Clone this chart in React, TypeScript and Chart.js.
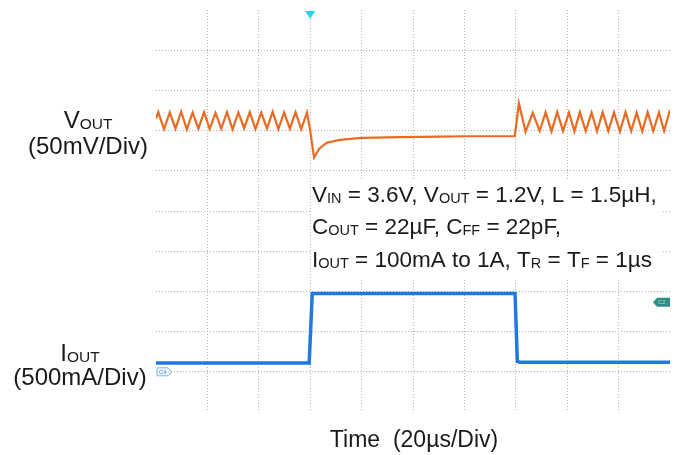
import React, { useEffect, useRef } from "react";
import { Chart, registerables } from "chart.js";

Chart.register(...registerables);

// Time axis in µs (20 µs/div, 10 divisions), vertical axis in screen divisions (0..10)
const X_MIN = 0;
const X_MAX = 200;
const X_STEP = 20;
const Y_MIN = 0;
const Y_MAX = 10;
const Y_STEP = 1;

// V_OUT trace (µs, divisions)
const voutTimes = [
  0, 0.9, 3.1, 5.35, 7.6, 9.8, 12.0, 14.25, 16.5, 18.7, 20.9, 23.15, 25.4, 27.6, 29.8,
  32.05, 34.3, 36.5, 38.7, 40.95, 43.2, 45.4, 47.6, 49.85, 52.1, 54.3, 56.5, 58.75,
  60.0, 61.5, 63.5, 66.4, 71.6, 80.0, 95.0, 110.0, 120.9, 130.0, 139.6,
  141.2, 143.8, 146.6, 149.3, 151.6, 153.9, 156.1, 158.4, 160.7, 162.8, 164.9, 167.2,
  169.5, 171.6, 173.8, 176.0, 178.2, 180.5, 182.7, 184.9, 187.0, 189.2, 191.3, 193.5,
  195.7, 197.7, 199.7, 200,
];
const voutValues = [
  7.3, 7.46, 7.04, 7.45, 7.05, 7.47, 7.03, 7.45, 7.05, 7.46, 7.04, 7.44, 7.05, 7.46, 7.03,
  7.45, 7.06, 7.46, 7.04, 7.45, 7.05, 7.47, 7.04, 7.45, 7.05, 7.46, 7.04, 7.45,
  7.0, 6.33, 6.55, 6.7, 6.77, 6.82, 6.84, 6.85, 6.86, 6.86, 6.86,
  7.68, 6.97, 7.44, 6.99, 7.45, 6.98, 7.46, 6.99, 7.45, 6.98, 7.46, 6.99,
  7.45, 6.98, 7.46, 6.99, 7.45, 6.98, 7.46, 6.99, 7.45, 6.98, 7.46, 6.99,
  7.45, 6.99, 7.45, 7.4,
];

// I_OUT trace (µs, divisions)
const ioutTimes = [0, 59.6, 60.8, 139.7, 140.6, 141.6, 200];
const ioutValues = [1.22, 1.22, 2.95, 2.95, 1.26, 1.24, 1.24];

// markers
const triggerTime = 60;
const ch4GroundDiv = 1.0;
const ch2RefDiv = 2.73;

// texts ([text, isSubscript])
type Part = [string, boolean];
const voutLabel: Part[] = [["V", false], ["OUT", true]];
const voutScale = "(50mV/Div)";
const ioutLabel: Part[] = [["I", false], ["OUT", true]];
const ioutScale = "(500mA/Div)";
const infoLines: Part[][] = [
  [["V", false], ["IN", true], [" = 3.6V, V", false], ["OUT", true], [" = 1.2V, L = 1.5µH,", false]],
  [["C", false], ["OUT", true], [" = 22µF, C", false], ["FF", true], [" = 22pF,", false]],
  [["I", false], ["OUT", true], [" = 100mA to 1A, T", false], ["R", true], [" = T", false], ["F", true], [" = 1µs", false]],
];
const timeLabel = "Time  (20µs/Div)";

const FONT = '"Liberation Sans", Arial, Helvetica, sans-serif';

function drawRich(
  ctx: CanvasRenderingContext2D,
  parts: Part[],
  x: number,
  y: number,
  size: number,
  subSize: number,
  align: "left" | "center"
) {
  ctx.save();
  ctx.textAlign = "left";
  ctx.textBaseline = "alphabetic";
  const widths = parts.map(([t, s]) => {
    ctx.font = `${s ? subSize : size}px ${FONT}`;
    return ctx.measureText(t).width;
  });
  const total = widths.reduce((a, b) => a + b, 0);
  let cx = align === "center" ? x - total / 2 : x;
  parts.forEach(([t, s], i) => {
    ctx.font = `${s ? subSize : size}px ${FONT}`;
    ctx.fillText(t, cx, s ? y + 1 : y);
    cx += widths[i];
  });
  ctx.restore();
}

const overlayPlugin = {
  id: "scopeOverlay",
  beforeDatasetsDraw(chart: any) {
    const ctx: CanvasRenderingContext2D = chart.ctx;
    ctx.save();
    ctx.fillStyle = "#ffffff";
    ctx.fillRect(311, 179, 352, 99);
    ctx.fillStyle = "#1a1a1a";
    const baselines = [202, 234, 267];
    infoLines.forEach((line, i) => drawRich(ctx, line, 312, baselines[i], 22.5, 14.5, "left"));
    ctx.restore();
  },
  afterDatasetsDraw(chart: any) {
    const ctx: CanvasRenderingContext2D = chart.ctx;
    const xs = chart.scales.x;
    const ys = chart.scales.y;
    const area = chart.chartArea;
    ctx.save();
    // trigger marker
    const tx = xs.getPixelForValue(triggerTime);
    ctx.fillStyle = "#19dcf2";
    ctx.beginPath();
    ctx.moveTo(tx - 5, area.top + 1);
    ctx.lineTo(tx + 5, area.top + 1);
    ctx.lineTo(tx, area.top + 9);
    ctx.closePath();
    ctx.fill();

    // CH4 ground tag (left)
    const gy = ys.getPixelForValue(ch4GroundDiv);
    const lx = area.left + 1;
    ctx.beginPath();
    ctx.moveTo(lx, gy - 4);
    ctx.lineTo(lx + 11, gy - 4);
    ctx.lineTo(lx + 15, gy);
    ctx.lineTo(lx + 11, gy + 4);
    ctx.lineTo(lx, gy + 4);
    ctx.closePath();
    ctx.fillStyle = "#eef5fd";
    ctx.fill();
    ctx.strokeStyle = "#7fb6ec";
    ctx.lineWidth = 1;
    ctx.stroke();
    ctx.fillStyle = "#3d8be0";
    ctx.font = `6px ${FONT}`;
    ctx.textBaseline = "middle";
    ctx.fillText("C4", lx + 2, gy + 0.5);

    // CH2 reference tag (right)
    const ry = ys.getPixelForValue(ch2RefDiv);
    const rx = area.right;
    ctx.beginPath();
    ctx.moveTo(rx - 13, ry - 4.5);
    ctx.lineTo(rx, ry - 4.5);
    ctx.lineTo(rx, ry + 4.5);
    ctx.lineTo(rx - 13, ry + 4.5);
    ctx.lineTo(rx - 17, ry);
    ctx.closePath();
    ctx.fillStyle = "#2f8f86";
    ctx.fill();
    ctx.fillStyle = "#a9dcd6";
    ctx.font = `6px ${FONT}`;
    ctx.fillText("C2", rx - 12, ry + 0.5);
    ctx.restore();
  },
  afterDraw(chart: any) {
    const ctx: CanvasRenderingContext2D = chart.ctx;
    ctx.save();
    ctx.fillStyle = "#1a1a1a";
    drawRich(ctx, voutLabel, 88, 128, 24, 15.5, "center");
    drawRich(ctx, [[voutScale, false]], 88, 154, 24, 15.5, "center");
    drawRich(ctx, ioutLabel, 80, 361, 24, 15.5, "center");
    drawRich(ctx, [[ioutScale, false]], 80, 385, 24, 15.5, "center");
    drawRich(ctx, [[timeLabel, false]], 414, 447, 23, 15, "center");
    ctx.restore();
  },
};

const gridColor = (ctx: any) => {
  const n = ctx.chart && ctx.scale ? ctx.scale.ticks.length : 0;
  if (ctx.index === 0 || ctx.index === n - 1) return "rgba(0,0,0,0)";
  return "#b2b2b2";
};

export default function App() {
  const canvasRef = useRef<HTMLCanvasElement | null>(null);

  useEffect(() => {
    document.body.style.margin = "0";
    const canvas = canvasRef.current;
    if (!canvas) return;
    const chart = new Chart(canvas, {
      type: "line",
      data: {
        datasets: [
          {
            label: "VOUT",
            data: voutTimes.map((t, i) => ({ x: t, y: voutValues[i] })),
            borderColor: "#ea6a22",
            borderWidth: 2.2,
            pointRadius: 0,
            tension: 0,
            fill: false,
          },
          {
            label: "IOUT",
            data: ioutTimes.map((t, i) => ({ x: t, y: ioutValues[i] })),
            borderColor: "#2079df",
            borderWidth: 3.5,
            pointRadius: 0,
            tension: 0,
            fill: false,
          },
        ],
      },
      options: {
        responsive: false,
        animation: false,
        devicePixelRatio: 1,
        layout: { padding: { left: 156, right: 7, top: 10, bottom: 43 } },
        plugins: { legend: { display: false }, tooltip: { enabled: false } },
        scales: {
          x: {
            type: "linear",
            min: X_MIN,
            max: X_MAX,
            ticks: { display: false, stepSize: X_STEP },
            grid: { color: gridColor, drawTicks: false, lineWidth: 1 },
            border: { display: false, dash: [1, 2] },
          },
          y: {
            type: "linear",
            min: Y_MIN,
            max: Y_MAX,
            ticks: { display: false, stepSize: Y_STEP },
            grid: { color: gridColor, drawTicks: false, lineWidth: 1 },
            border: { display: false, dash: [1, 2] },
          },
        },
      },
      plugins: [overlayPlugin],
    });
    return () => chart.destroy();
  }, []);

  return (
    <div style={{ position: "absolute", left: 0, top: 0, width: 677, height: 455, background: "#fff" }}>
      <canvas ref={canvasRef} width={677} height={455} style={{ display: "block" }} />
    </div>
  );
}
